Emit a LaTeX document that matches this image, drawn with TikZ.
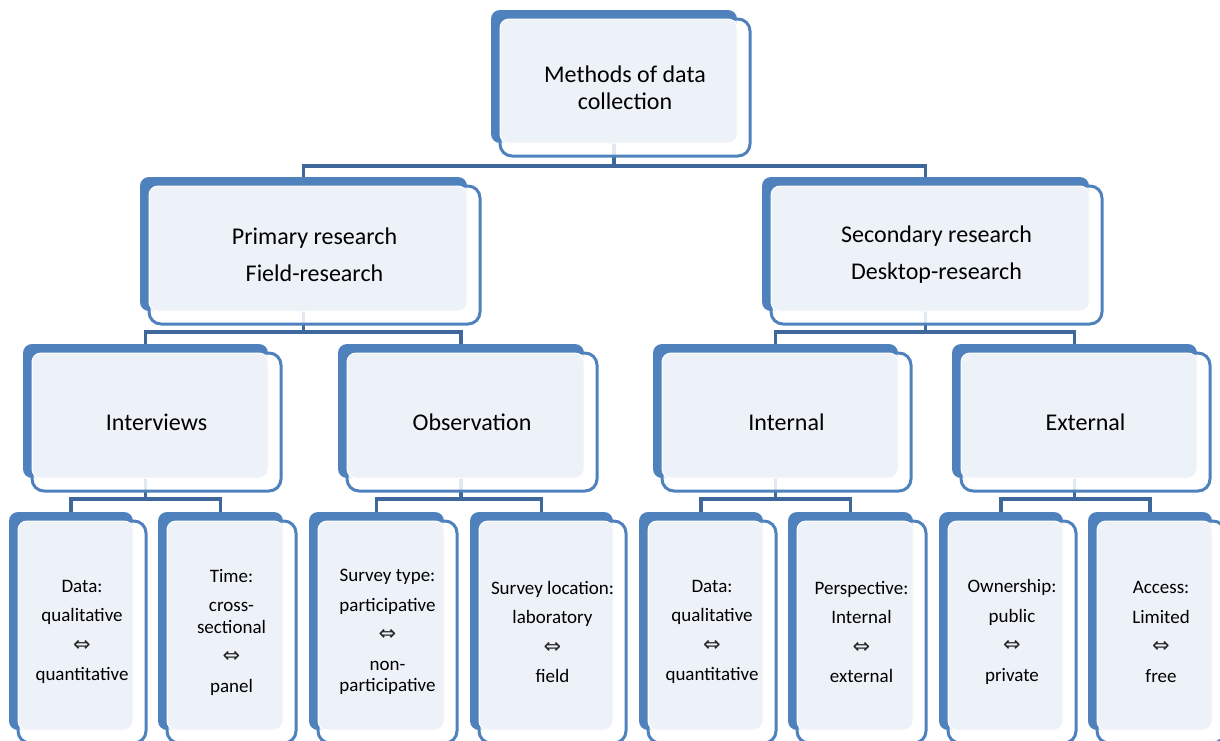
\documentclass[tikz,border=0pt]{standalone}
\usepackage{fontspec}
\setmainfont{Carlito}
\newfontfamily\symfont{DejaVu Sans}
\usetikzlibrary{fit,backgrounds}

\definecolor{accent}{RGB}{79,129,189}
\definecolor{paleblue}{RGB}{237,241,248}
\definecolor{linkblue}{RGB}{62,104,155}

\tikzset{
  backbox/.style={fill=accent, draw=none, rounded corners=9pt, inner sep=0pt, outer sep=0pt},
  framebox/.style={draw=accent, line width=3pt, fill=white, fill opacity=0.85,
                   rounded corners=12pt, inner sep=0pt, outer sep=0pt},
  facebox/.style={fill=paleblue, draw=white, line width=1pt, rounded corners=9pt},
  conn/.style={draw=linkblue, line width=3.4pt},
  bigtext/.style={font=\fontsize{24}{27}\selectfont, align=center, text=black},
  smalltext/.style={font=\fontsize{19}{21.5}\selectfont, align=center, text=black},
}

% two-way arrow between the alternatives
\newcommand\twoway{{\symfont\fontsize{21}{21.5}\selectfont\color{black!85}⇔}}

% #1 name, #2..#5 back plate (left, top, right, bottom), #6 text style, #7 text
\newcommand\smartbox[7]{%
  \node[backbox, fit={(#2,#3) (#4,#5)}] (#1b) {};
  \node[framebox, fit={({#2+9},{#3+9}) ({#4+13},{#5+13})}] (#1f) {};
  \path[facebox] (#1f.north west) rectangle (#1b.south east);
  \node[#6] (#1) at (#1f.center) {#7};
}

\begin{document}
\begin{tikzpicture}[x=1pt,y=-1pt]
\useasboundingbox (0,0) rectangle (1220,740);
\clip (0,0) rectangle (1220,740);

% level 1
\smartbox{top}{491}{10}{737}{143}{bigtext}{Methods of data\\collection}

% level 2
\smartbox{prim}{140}{177}{467}{311}{bigtext}{Primary research\\[10pt]Field-research}
\smartbox{sec}{762}{177}{1089}{311}{bigtext}{Secondary research\\[10pt]Desktop-research}

% level 3
\smartbox{int}{23}{344}{268}{478}{bigtext}{Interviews}
\smartbox{obs}{338}{344}{584}{478}{bigtext}{Observation}
\smartbox{inl}{653}{344}{898}{478}{bigtext}{Internal}
\smartbox{ext}{952}{344}{1197}{478}{bigtext}{External}

% level 4
\smartbox{dataa}{9}{512}{133}{730}{smalltext}{Data:\\[8pt]qualitative\\[8pt]\twoway\\[8pt]quantitative}
\smartbox{time}{158}{512}{283}{730}{smalltext}{Time:\\[8pt]cross-\\sectional\\[8pt]\twoway\\[8pt]panel}
\smartbox{stype}{309}{512}{444}{730}{smalltext}{Survey type:\\[8pt]participative\\[8pt]\twoway\\[8pt]non-\\participative}
\smartbox{sloc}{470}{512}{613}{730}{smalltext}{Survey location:\\[8pt]laboratory\\[8pt]\twoway\\[8pt]field}
\smartbox{datab}{639}{512}{763}{730}{smalltext}{Data:\\[8pt]qualitative\\[8pt]\twoway\\[8pt]quantitative}
\smartbox{persp}{788}{512}{913}{730}{smalltext}{Perspective:\\[8pt]Internal\\[8pt]\twoway\\[8pt]external}
\smartbox{own}{939}{512}{1063}{730}{smalltext}{Ownership:\\[8pt]public\\[8pt]\twoway\\[8pt]private}
\smartbox{acc}{1088}{512}{1212}{730}{smalltext}{Access:\\[8pt]Limited\\[8pt]\twoway\\[8pt]free}

% connectors, drawn beneath the boxes
\begin{pgfonlayer}{background}
  \coordinate (busa) at (0,166);
  \coordinate (busb) at (0,332);
  \coordinate (busc) at (0,499);
  \draw[conn] (topb.south) -- (topb.south |- busa) -| (primb.north);
  \draw[conn] (topb.south |- busa) -| (secb.north);
  \draw[conn] (primb.south) -- (primb.south |- busb) -| (intb.north);
  \draw[conn] (primb.south |- busb) -| (obsb.north);
  \draw[conn] (secb.south) -- (secb.south |- busb) -| (inlb.north);
  \draw[conn] (secb.south |- busb) -| (extb.north);
  \draw[conn] (intb.south) -- (intb.south |- busc) -| (dataab.north);
  \draw[conn] (intb.south |- busc) -| (timeb.north);
  \draw[conn] (obsb.south) -- (obsb.south |- busc) -| (stypeb.north);
  \draw[conn] (obsb.south |- busc) -| (slocb.north);
  \draw[conn] (inlb.south) -- (inlb.south |- busc) -| (databb.north);
  \draw[conn] (inlb.south |- busc) -| (perspb.north);
  \draw[conn] (extb.south) -- (extb.south |- busc) -| (ownb.north);
  \draw[conn] (extb.south |- busc) -| (accb.north);
\end{pgfonlayer}
\end{tikzpicture}
\end{document}
